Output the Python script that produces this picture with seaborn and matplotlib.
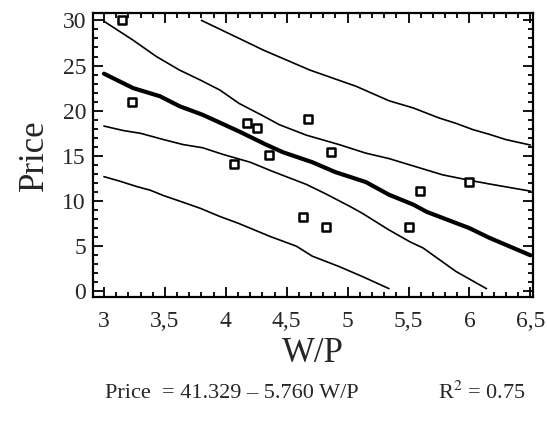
import numpy as np
import pandas as pd
import seaborn as sns
import matplotlib.pyplot as plt
from matplotlib.ticker import MultipleLocator

# observed points
wp = [3.145, 3.232, 4.066, 4.175, 4.257, 4.352, 4.634, 4.675, 4.825, 4.866, 5.50, 5.596, 6.0]
price = [30.0, 21.0, 14.08, 18.6, 18.05, 15.1, 8.2, 19.07, 7.13, 15.47, 7.13, 11.14, 12.16]

# fitted line and bands
fit_x = [3.0, 3.24, 3.46, 3.62, 3.81, 4.11, 4.33, 4.47, 4.71, 4.90, 5.15, 5.34, 5.54, 5.65, 6.0, 6.16, 6.5]
fit_y = [24.1, 22.5, 21.6, 20.5, 19.55, 17.7, 16.25, 15.4, 14.3, 13.2, 12.1, 10.7, 9.6, 8.8, 7.0, 5.95, 4.0]

upper_conf_x = [3.0, 3.24, 3.43, 3.62, 3.79, 3.95, 4.11, 4.31, 4.44, 4.66, 4.93, 5.15, 5.34, 5.56, 5.78, 6.0, 6.16, 6.5]
upper_conf_y = [29.9, 27.8, 26.0, 24.5, 23.4, 22.3, 20.8, 19.4, 18.45, 17.3, 16.25, 15.3, 14.7, 13.8, 12.9, 12.3, 11.9, 11.1]

lower_conf_x = [3.0, 3.16, 3.30, 3.49, 3.65, 3.81, 3.98, 4.2, 4.39, 4.66, 4.82, 5.02, 5.12, 5.34, 5.51, 5.62, 5.89, 6.14]
lower_conf_y = [18.3, 17.8, 17.5, 16.8, 16.25, 15.9, 15.15, 14.3, 13.25, 11.85, 10.8, 9.4, 8.65, 6.8, 5.5, 4.8, 2.2, 0.3]

upper_pred_x = [3.80, 4.11, 4.31, 4.50, 4.69, 4.88, 5.07, 5.34, 5.54, 5.75, 5.89, 6.03, 6.16, 6.30, 6.50]
upper_pred_y = [30.0, 28.0, 26.7, 25.6, 24.5, 23.6, 22.7, 21.1, 20.3, 19.2, 18.6, 17.9, 17.4, 16.8, 16.2]

lower_pred_x = [3.0, 3.13, 3.27, 3.38, 3.49, 3.62, 3.79, 3.95, 4.11, 4.36, 4.58, 4.71, 4.93, 5.12, 5.34]
lower_pred_y = [12.7, 12.2, 11.6, 11.2, 10.6, 10.0, 9.2, 8.3, 7.5, 6.1, 5.0, 3.9, 2.75, 1.65, 0.3]

x_ticks = [3, 3.5, 4, 4.5, 5, 5.5, 6, 6.5]
x_tick_labels = ["3", "3,5", "4", "4,5", "5", "5,5", "6", "6,5"]
y_ticks = [0, 5, 10, 15, 20, 25, 30]

sns.set_style("ticks")
plt.rcParams['font.family'] = ['Liberation Serif', 'DejaVu Serif']
plt.rcParams['mathtext.fontset'] = 'stix'

fig = plt.figure(figsize=(5.47, 4.24), dpi=100)
ax = fig.add_axes([0.170, 0.300, 0.804, 0.669])

thin = dict(color="black", linewidth=1.2, sort=False, estimator=None)
for cx, cy in [(upper_pred_x, upper_pred_y), (upper_conf_x, upper_conf_y),
               (lower_conf_x, lower_conf_y), (lower_pred_x, lower_pred_y)]:
    sns.lineplot(x=cx, y=cy, ax=ax, **thin)
sns.lineplot(x=fit_x, y=fit_y, ax=ax, color="black", linewidth=3.0, sort=False, estimator=None)

df = pd.DataFrame({"W/P": wp, "Price": price})
sns.scatterplot(data=df, x="W/P", y="Price", ax=ax, marker="s", s=32,
                facecolor="white", edgecolor="black", linewidth=1.8, zorder=5)

ax.set_xlim(2.91, 6.52)
ax.set_ylim(-0.6, 30.8)
ax.set_xticks(x_ticks)
ax.set_xticklabels(x_tick_labels)
ax.set_yticks(y_ticks)
ax.xaxis.set_minor_locator(MultipleLocator(0.1))
ax.yaxis.set_minor_locator(MultipleLocator(1))
ax.tick_params(which="both", direction="in", top=True, right=True, width=1.3, color="black")
ax.tick_params(which="major", length=7, labelsize=17)
ax.tick_params(which="minor", length=3.5)
ax.tick_params(axis="x", which="major", pad=10)
ax.tick_params(axis="y", which="major", pad=5)
for sp in ax.spines.values():
    sp.set_linewidth(1.6)
    sp.set_color("black")

ax.set_xlabel("W/P", fontsize=25, labelpad=4)
ax.set_ylabel("Price", fontsize=25, labelpad=8)

fig.text(0.192, 0.073, "Price  = 41.329 \u2013 5.760 W/P", fontsize=16, va="center", ha="left")
fig.text(0.800, 0.073, "R$^2$ = 0.75", fontsize=16, va="center", ha="left")

fig.savefig("out.png", dpi=100)
